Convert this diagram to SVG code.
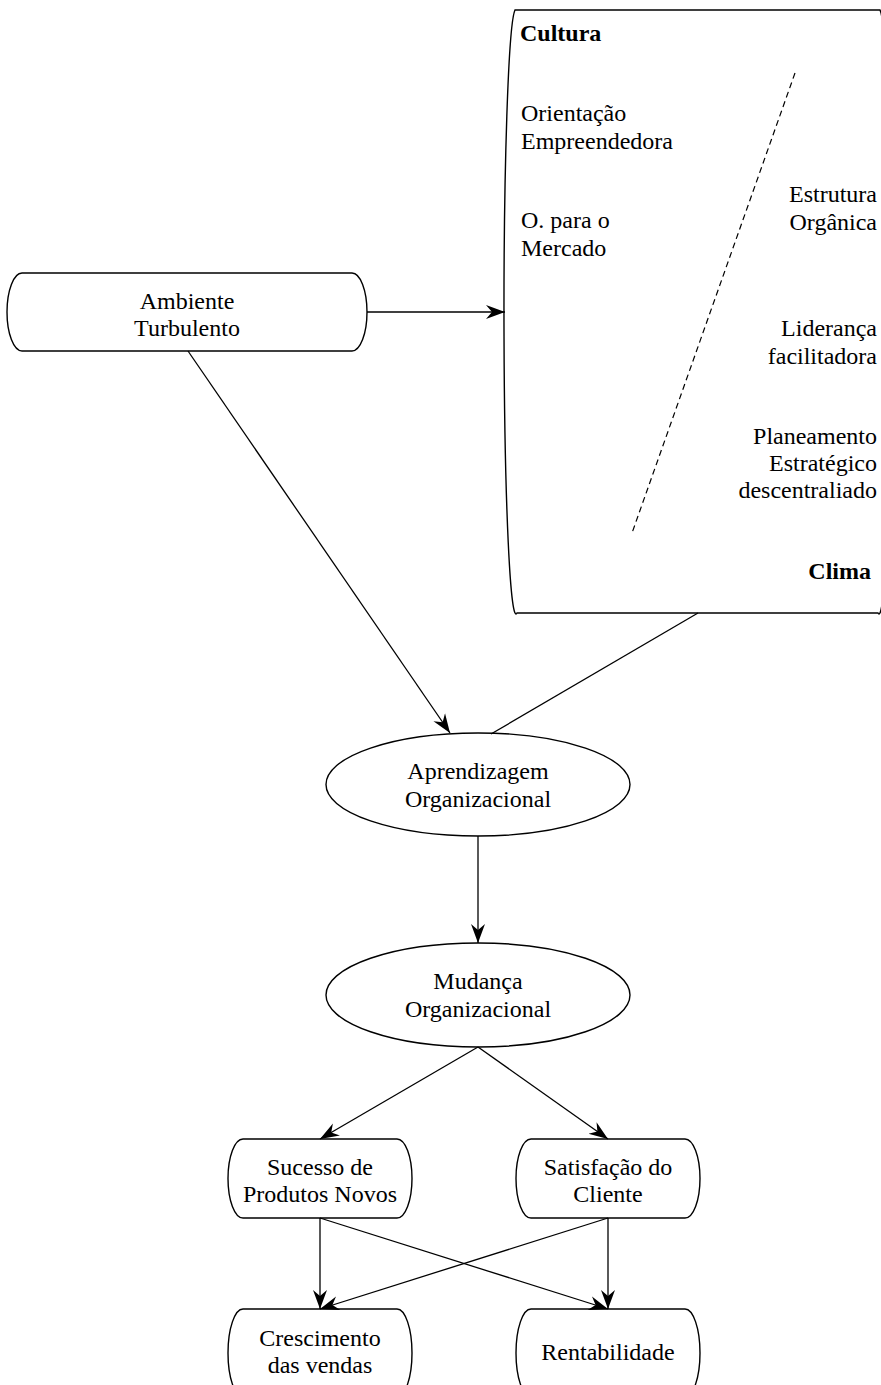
<svg xmlns="http://www.w3.org/2000/svg" width="881" height="1385" viewBox="0 0 881 1385">
<style>
  .shape { fill: #ffffff; stroke: #000000; stroke-width: 1.4; }
  .conn { fill: none; stroke: #000000; stroke-width: 1.3; }
  .dash { fill: none; stroke: #000000; stroke-width: 1.2; stroke-dasharray: 6 4; }
  text { font-family: "Liberation Serif", "Times New Roman", serif; font-size: 24px; fill: #000000; }
  .c { text-anchor: middle; }
  .r { text-anchor: end; }
  .b { font-weight: bold; }
</style>
<defs>
  <marker id="arrow" markerUnits="userSpaceOnUse" markerWidth="20" markerHeight="16" refX="19" refY="8" orient="auto">
    <path d="M0,1 L19,8 L0,15 L6,8 Z" fill="#000000"/>
  </marker>
</defs>
<rect x="0" y="0" width="881" height="1385" fill="#ffffff"/>

<g id="ambiente">
  <path class="shape" d="M22,273 H352 A15,39 0 0 1 352,351 H22 A15,39 0 0 1 22,273 Z"/>
  <text class="c" x="187" y="309">Ambiente</text>
  <text class="c" x="187" y="336">Turbulento</text>
</g>

<g id="cultura-clima">
  <path class="shape" d="M515,10 H880 A12,302 0 0 1 878,613 H517 A12,302 0 0 1 515,10 Z"/>
  <line class="dash" x1="795" y1="73" x2="632" y2="533"/>
  <text class="b" x="520" y="41">Cultura</text>
  <text x="521" y="121">Orientação</text>
  <text x="521" y="149">Empreendedora</text>
  <text x="521" y="228">O. para o</text>
  <text x="521" y="256">Mercado</text>
  <text class="r" x="877" y="202">Estrutura</text>
  <text class="r" x="877" y="230">Orgânica</text>
  <text class="r" x="877" y="336">Liderança</text>
  <text class="r" x="877" y="364">facilitadora</text>
  <text class="r" x="877" y="444">Planeamento</text>
  <text class="r" x="877" y="471">Estratégico</text>
  <text class="r" x="877" y="498">descentraliado</text>
  <text class="r b" x="871" y="579">Clima</text>
</g>

<g id="aprendizagem">
  <ellipse class="shape" cx="478" cy="784.5" rx="152" ry="51.5"/>
  <text class="c" x="478" y="779">Aprendizagem</text>
  <text class="c" x="478" y="807">Organizacional</text>
</g>

<g id="mudanca">
  <ellipse class="shape" cx="478" cy="995" rx="152" ry="52"/>
  <text class="c" x="478" y="989">Mudança</text>
  <text class="c" x="478" y="1017">Organizacional</text>
</g>

<g id="sucesso">
  <path class="shape" d="M243,1139 H397 A15,39.5 0 0 1 397,1218 H243 A15,39.5 0 0 1 243,1139 Z"/>
  <text class="c" x="320" y="1175">Sucesso de</text>
  <text class="c" x="320" y="1202">Produtos Novos</text>
</g>

<g id="satisfacao">
  <path class="shape" d="M531,1139 H685 A15,39.5 0 0 1 685,1218 H531 A15,39.5 0 0 1 531,1139 Z"/>
  <text class="c" x="608" y="1175">Satisfação do</text>
  <text class="c" x="608" y="1202">Cliente</text>
</g>

<g id="crescimento">
  <path class="shape" d="M243,1309 H397 A15,44 0 0 1 397,1397 H243 A15,44 0 0 1 243,1309 Z"/>
  <text class="c" x="320" y="1346">Crescimento</text>
  <text class="c" x="320" y="1373">das vendas</text>
</g>

<g id="rentabilidade">
  <path class="shape" d="M531,1309 H685 A15,44 0 0 1 685,1397 H531 A15,44 0 0 1 531,1309 Z"/>
  <text class="c" x="608" y="1360">Rentabilidade</text>
</g>

<g id="connectors">
  <line class="conn" x1="367" y1="312" x2="505" y2="312" marker-end="url(#arrow)"/>
  <line class="conn" x1="188" y1="351" x2="450" y2="733" marker-end="url(#arrow)"/>
  <line class="conn" x1="698" y1="613" x2="491" y2="734"/>
  <line class="conn" x1="478" y1="836" x2="478" y2="943" marker-end="url(#arrow)"/>
  <line class="conn" x1="478" y1="1047" x2="320" y2="1139" marker-end="url(#arrow)"/>
  <line class="conn" x1="478" y1="1047" x2="608" y2="1139" marker-end="url(#arrow)"/>
  <line class="conn" x1="320" y1="1218" x2="320" y2="1309" marker-end="url(#arrow)"/>
  <line class="conn" x1="608" y1="1218" x2="608" y2="1309" marker-end="url(#arrow)"/>
  <line class="conn" x1="320" y1="1218" x2="608" y2="1309" marker-end="url(#arrow)"/>
  <line class="conn" x1="608" y1="1218" x2="320" y2="1309" marker-end="url(#arrow)"/>
</g>
</svg>
